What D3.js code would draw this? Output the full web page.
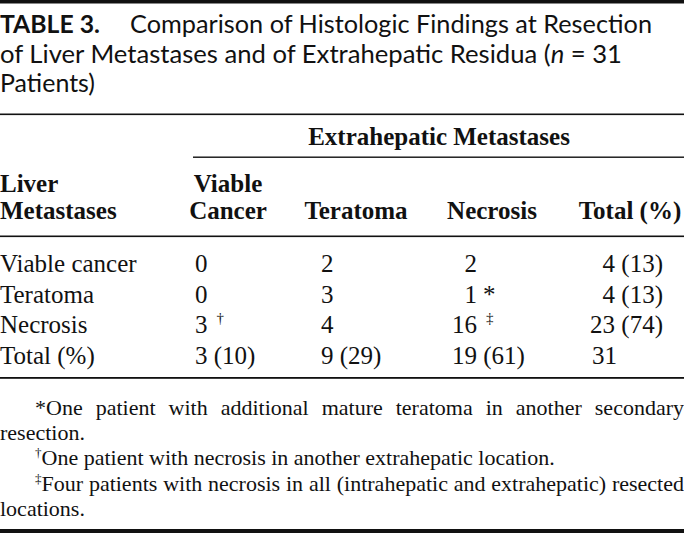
<!DOCTYPE html>
<html>
<head>
<meta charset="utf-8">
<script src="https://cdn.jsdelivr.net/npm/d3@7"></script>
<style>
  html, body { margin: 0; padding: 0; background: #fff; }
  svg { display: block; }
</style>
</head>
<body>
<svg id="table"></svg>
<script>
// table contents
const titleLabel = "TABLE 3.";
const titleLines = [
	"Comparison of Histologic Findings at Resection",
	"of Liver Metastases and of Extrahepatic Residua (|n| = 31",
	"Patients)"
];
const spanHeader = "Extrahepatic Metastases";
const stubHeader = ["Liver", "Metastases"];
const colHeaders = [["Viable", "Cancer"], ["Teratoma"], ["Necrosis"], ["Total (%)"]];
const rowLabels = ["Viable cancer", "Teratoma", "Necrosis", "Total (%)"];

const viableCancer = [0, 0, 3, 3];
const teratoma = [2, 3, 4, 9];
const necrosis = [2, 1, 16, 19];
const rowTotals = [4, 4, 23, 31];
const colPercent = [10, 29, 61];
const rowPercent = [13, 13, 74];

// footnote marks: [row, column, symbol]
const marks = [[2, 0, "†"], [1, 2, "*"], [2, 2, "‡"]];
const footnotes = [
	["*", "One patient with additional mature teratoma in another secondary", "resection."],
	["†", "One patient with necrosis in another extrahepatic location."],
	["‡", "Four patients with necrosis in all (intrahepatic and extrahepatic) resected", "locations."]
];

const width = 684, height = 533;
const ink = "#111";
const serif = "'Liberation Serif', 'Times New Roman', serif";
const sans = "Lato, 'Open Sans', sans-serif";

let svg = d3.select("#table").attr("width", width).attr("height", height);

// rules
const rule = (y, h, x0 = 0) => svg.append("rect").attr("x", x0).attr("y", y)
	.attr("width", width - x0).attr("height", h).attr("fill", ink);
rule(0, 3.5);
rule(113.5, 1.6);
rule(156.5, 1.4, 193);
rule(235.5, 1.6);
rule(377, 1.8);
rule(529, 4);

// title
let title = svg.append("g").attr("font-family", sans).attr("fill", ink).attr("font-size", 25);
title.append("text").attr("x", 0).attr("y", 33).attr("font-weight", "bold")
	.attr("textLength", 100).attr("lengthAdjust", "spacingAndGlyphs").text(titleLabel);

const titleY = d3.scalePoint().domain(d3.range(titleLines.length)).range([33, 92]);
const titleX = [130, 0, 0];
const titleW = [522, 622, 95];
titleLines.forEach((line, i) => {
	let t = title.append("text").attr("x", titleX[i]).attr("y", titleY(i))
		.attr("textLength", titleW[i]).attr("lengthAdjust", "spacingAndGlyphs");
	line.split("|").forEach((part, j) => {
		t.append("tspan").attr("font-style", j % 2 ? "italic" : "normal").text(part);
	});
});

// header
let head = svg.append("g").attr("font-family", serif).attr("font-weight", "bold")
	.attr("font-size", 25).attr("fill", ink);
head.append("text").attr("x", 439).attr("y", 145).attr("text-anchor", "middle").text(spanHeader);

const headY = d3.scalePoint().domain([0, 1]).range([192, 219]);
stubHeader.forEach((s, i) => head.append("text").attr("x", 0).attr("y", headY(i)).text(s));

const colCenter = d3.scaleOrdinal().domain(d3.range(colHeaders.length)).range([228, 356, 492, 630]);
colHeaders.forEach((lines, c) => {
	lines.forEach((s, i) => {
		head.append("text").attr("x", colCenter(c)).attr("y", headY(i + 2 - lines.length))
			.attr("text-anchor", "middle").text(s);
	});
});

// body
const rowY = d3.scalePoint().domain(rowLabels).range([272, 364]);
let body = svg.append("g").attr("font-family", serif).attr("font-size", 25).attr("fill", ink);

body.selectAll(".stub").data(rowLabels).enter().append("text")
	.attr("class", "stub").attr("x", 0).attr("y", d => rowY(d)).text(d => d);

const columns = [viableCancer, teratoma, necrosis];
// x: left edge for first two columns, right edge of the count for necrosis
const colX = d3.scaleOrdinal().domain([0, 1, 2]).range([195, 321, 477]);
const colAnchor = ["start", "start", "end"];

columns.forEach((vals, c) => {
	let cells = body.selectAll(".c" + c).data(vals).enter().append("text")
		.attr("class", "c" + c)
		.attr("x", colX(c))
		.attr("y", (d, r) => rowY(rowLabels[r]))
		.attr("text-anchor", colAnchor[c])
		.text(d => d);
	cells.each(function (d, r) {
		let mark = marks.find(m => m[0] == r && m[1] == c);
		let bb = this.getBBox();
		let x1 = bb.x + bb.width;
		if (r == vals.length - 1) {
			body.append("text").attr("x", x1).attr("y", rowY(rowLabels[r]))
				.attr("xml:space", "preserve").text(" (" + colPercent[c] + ")");
		}
		if (mark) {
			if (mark[2] == "*") {
				body.append("text").attr("x", x1 + 6).attr("y", rowY(rowLabels[r]))
					.text(mark[2]);
			} else {
				body.append("text").attr("x", x1 + 9).attr("y", rowY(rowLabels[r]) - 10)
					.attr("font-size", 15).text(mark[2]);
			}
		}
	});
});

body.selectAll(".tot").data(rowTotals).enter().append("text")
	.attr("class", "tot")
	.attr("x", (d, r) => r < rowPercent.length ? 663 : 592)
	.attr("y", (d, r) => rowY(rowLabels[r]))
	.attr("text-anchor", (d, r) => r < rowPercent.length ? "end" : "start")
	.text((d, r) => r < rowPercent.length ? d + " (" + rowPercent[r] + ")" : d);

// footnotes
let foot = svg.append("g").attr("font-family", serif).attr("font-size", 22).attr("fill", ink);

function word(y, w, mark) {
	let t = foot.append("text").attr("y", y);
	if (mark == "*") {
		t.append("tspan").text(mark);
	} else if (mark) {
		t.append("tspan").attr("font-size", 13).attr("dy", -8).text(mark);
	}
	let s = t.append("tspan").text(w);
	if (mark && mark != "*") s.attr("dy", 8);
	return t;
}

// justified line, words spread between x0 and x1
function justify(text, mark, x0, x1, y) {
	let words = text.split(" ");
	let nodes = words.map((w, i) => word(y, w, i == 0 ? mark : null));
	let lens = nodes.map(n => n.node().getComputedTextLength());
	let gap = (x1 - x0 - d3.sum(lens)) / (words.length - 1);
	let x = x0;
	nodes.forEach((n, i) => { n.attr("x", x); x += lens[i] + gap; });
}

let fy = 415;
footnotes.forEach(f => {
	if (f.length > 2) {
		justify(f[1], f[0], 35, width, fy);
		fy += 25;
		foot.append("text").attr("x", 0).attr("y", fy).text(f[2]);
	} else {
		word(fy, f[1], f[0]).attr("x", 35);
	}
	fy += 25.3;
});
</script>
</body>
</html>
